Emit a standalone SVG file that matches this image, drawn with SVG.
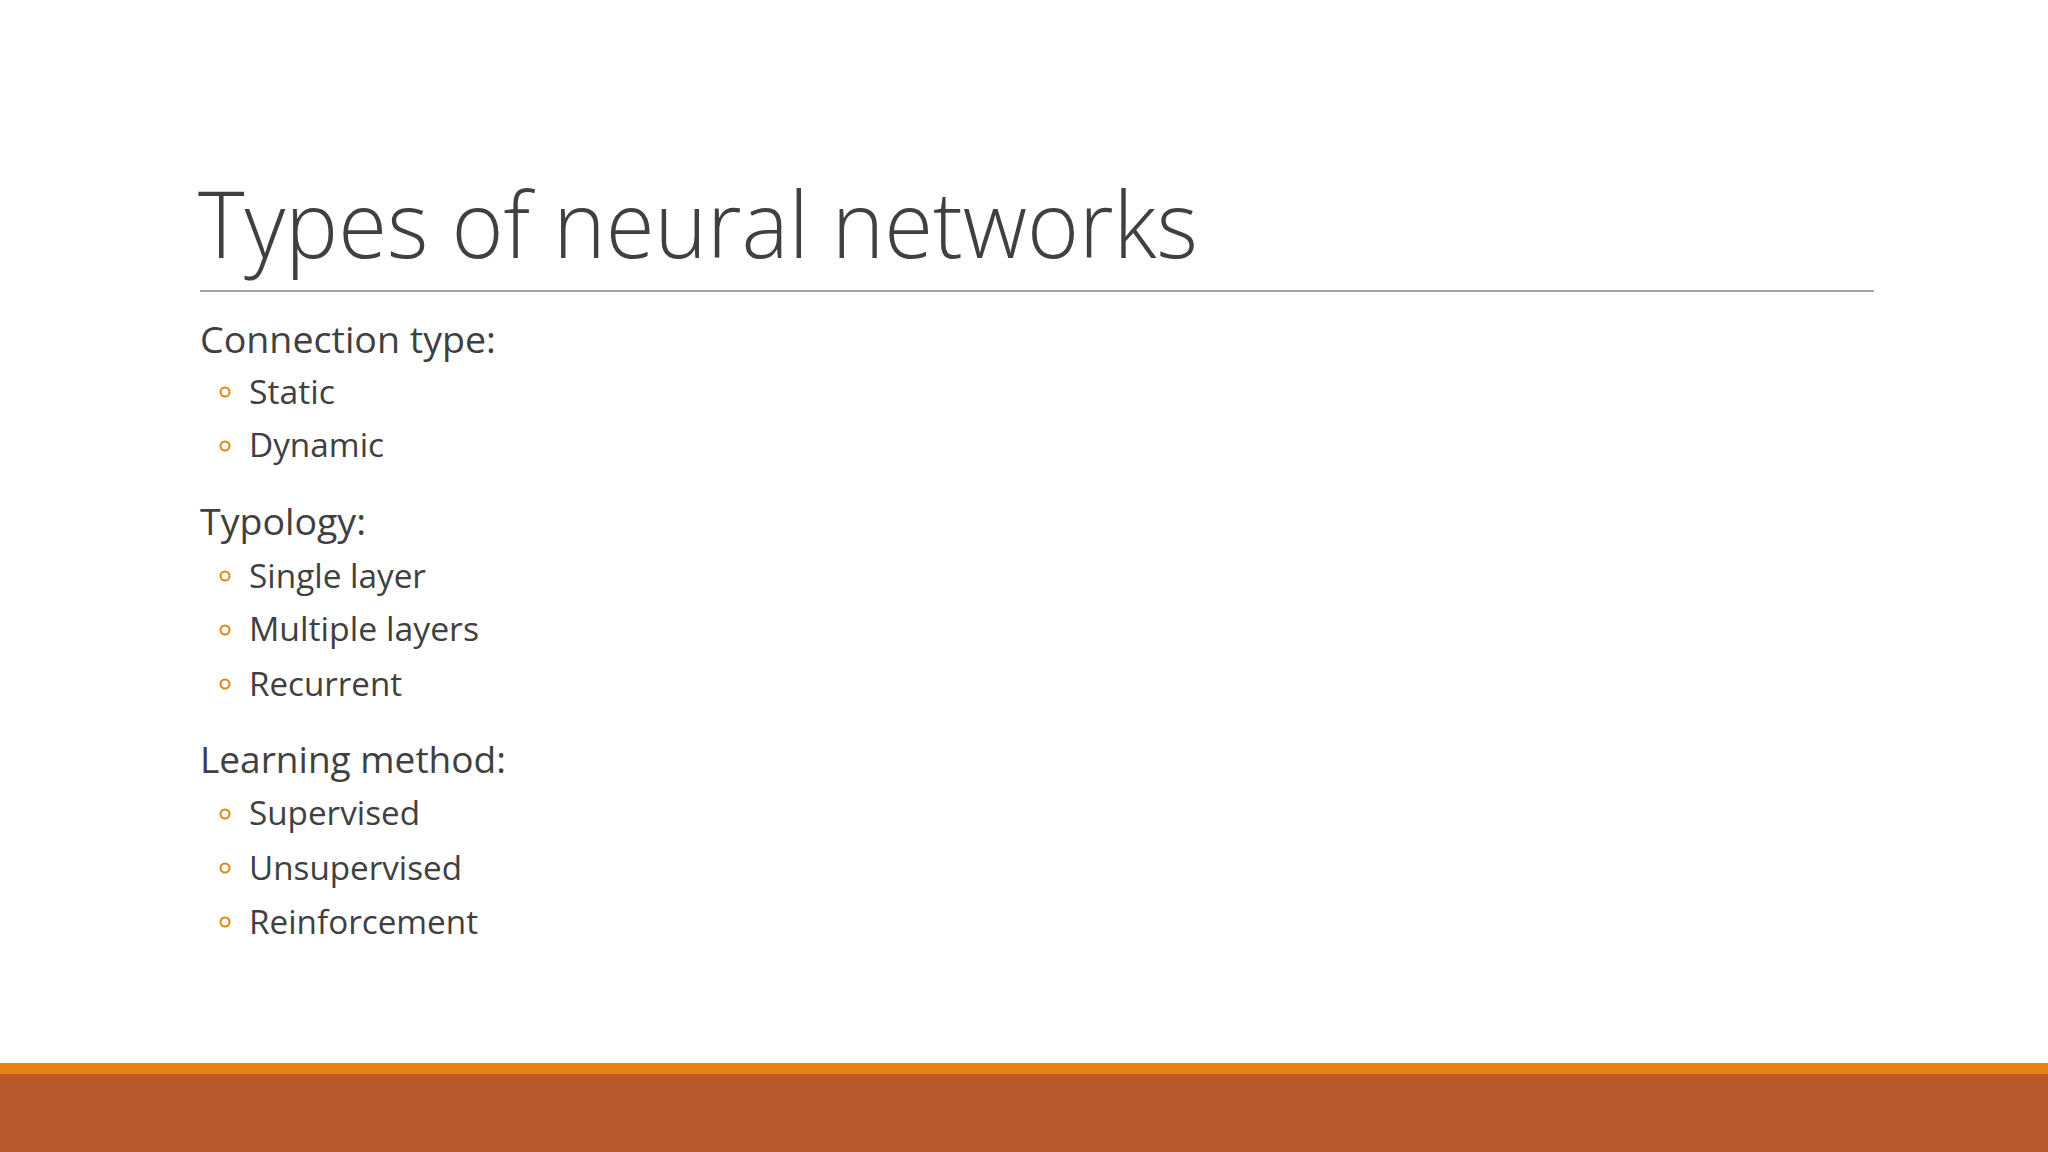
<svg xmlns="http://www.w3.org/2000/svg" width="2048" height="1152" viewBox="0 0 2048 1152">
<style>
.t{font-family:"Open Sans","Liberation Sans",sans-serif;fill:#404040}
.h{font-size:37px}
.s{font-size:33px}
.b{fill:none;stroke:#E48312;stroke-width:2}
</style>
<rect width="2048" height="1152" fill="#ffffff"/>
<g id="title"><text class="t" x="198" y="258" font-size="92" font-weight="300" textLength="1000" lengthAdjust="spacingAndGlyphs">Types of neural networks</text>
<line x1="200" y1="291" x2="1874" y2="291" stroke="#a6a6a6" stroke-width="2"/></g>
<g id="body">
<text class="t h" x="200" y="353" textLength="296" lengthAdjust="spacingAndGlyphs">Connection type:</text>
<circle class="b" cx="225" cy="392" r="4.5"/><text class="t s" x="249" y="404" textLength="86" lengthAdjust="spacingAndGlyphs">Static</text>
<circle class="b" cx="225" cy="446" r="4.5"/><text class="t s" x="249" y="457" textLength="135" lengthAdjust="spacingAndGlyphs">Dynamic</text>
<text class="t h" x="200" y="535" textLength="166" lengthAdjust="spacingAndGlyphs">Typology:</text>
<circle class="b" cx="225" cy="576" r="4.5"/><text class="t s" x="249" y="588" textLength="177" lengthAdjust="spacingAndGlyphs">Single layer</text>
<circle class="b" cx="225" cy="630" r="4.5"/><text class="t s" x="249" y="641" textLength="230" lengthAdjust="spacingAndGlyphs">Multiple layers</text>
<circle class="b" cx="225" cy="684" r="4.5"/><text class="t s" x="249" y="696" textLength="153" lengthAdjust="spacingAndGlyphs">Recurrent</text>
<text class="t h" x="200" y="773" textLength="306" lengthAdjust="spacingAndGlyphs">Learning method:</text>
<circle class="b" cx="225" cy="814" r="4.5"/><text class="t s" x="249" y="825" textLength="171" lengthAdjust="spacingAndGlyphs">Supervised</text>
<circle class="b" cx="225" cy="868" r="4.5"/><text class="t s" x="249" y="880" textLength="213" lengthAdjust="spacingAndGlyphs">Unsupervised</text>
<circle class="b" cx="225" cy="922" r="4.5"/><text class="t s" x="249" y="934" textLength="229" lengthAdjust="spacingAndGlyphs">Reinforcement</text>
</g>
<g id="footer"><rect x="0" y="1063" width="2048" height="11" fill="#E48312"/><rect x="0" y="1074" width="2048" height="78" fill="#BA582D"/></g>
</svg>
